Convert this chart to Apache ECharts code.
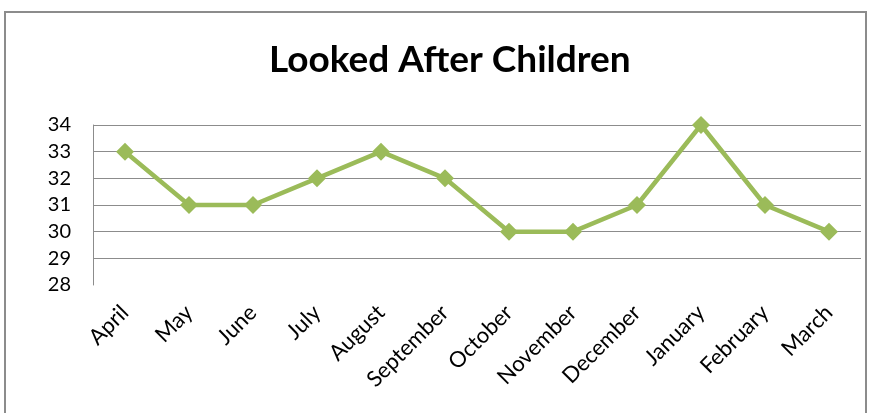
<!DOCTYPE html>
<html><head><meta charset="utf-8">
<script src="https://cdn.jsdelivr.net/npm/echarts@6/dist/echarts.min.js"></script>
<style>html,body{margin:0;padding:0;background:#fff}#c{width:872px;height:413px}</style>
</head><body><div id="c"></div>
<script>
const title = 'Looked After Children';
const months = ['April','May','June','July','August','September','October','November','December','January','February','March'];
const values = [33,31,31,32,33,32,30,30,31,34,31,30];
const yMin = 28, yMax = 34, yStep = 1;

const chart = echarts.init(document.getElementById('c'));
chart.setOption({
  animation: false,
  backgroundColor: '#fff',
  title: {text: title, left: 264, top: 37,
    textStyle: {fontFamily: 'Lato', fontWeight: 'bold', fontSize: 37, color: '#000'}},
  graphic: [{type: 'rect', shape: {x: 5, y: 12, width: 861, height: 420},
    style: {fill: 'none', stroke: '#8c8c8c', lineWidth: 2}, silent: true}],
  grid: {left: 93, right: 11, top: 125, bottom: 128},
  xAxis: {type: 'category', data: months, boundaryGap: true,
    axisLine: {show: false}, axisTick: {show: false},
    axisLabel: {rotate: 45, margin: 24, fontFamily: 'Lato', fontSize: 22, color: '#000', interval: 0}},
  yAxis: {type: 'value', min: yMin, max: yMax, interval: yStep,
    axisLine: {show: true, lineStyle: {color: '#8c8c8c', width: 1}},
    axisTick: {show: false},
    axisLabel: {fontFamily: 'Lato', fontSize: 20, color: '#000', margin: 22},
    splitLine: {show: true, lineStyle: {color: ['transparent','#8c8c8c','#8c8c8c','#8c8c8c','#8c8c8c','#8c8c8c','#8c8c8c'], width: 1}}},
  series: [{type: 'line', data: values, symbol: 'diamond', symbolSize: 18,
    lineStyle: {color: '#9bbb59', width: 4.5}, itemStyle: {color: '#9bbb59'}}]
});
</script></body></html>
